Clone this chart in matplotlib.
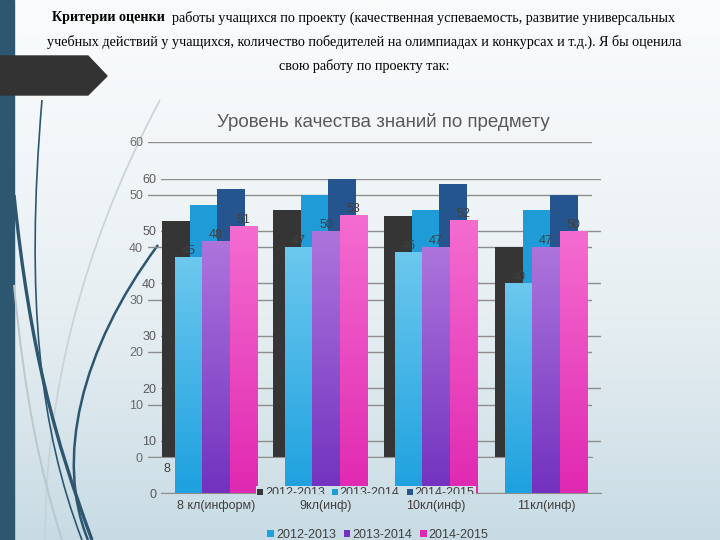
import matplotlib

matplotlib.use("Agg")

import matplotlib.pyplot as plt
import numpy as np
from matplotlib.colors import LinearSegmentedColormap
from matplotlib.patches import Polygon, PathPatch, Rectangle
from matplotlib.path import Path
from matplotlib.transforms import Bbox, TransformedBbox

plt.rcParams["font.family"] = ["Liberation Sans", "DejaVu Sans"]

# data
categories = ["8 кл(информ)", "9кл(инф)", "10кл(инф)", "11кл(инф)"]
years = ["2012-2013", "2013-2014", "2014-2015"]
vals_2012 = [45, 47, 46, 40]
vals_2013 = [48, 50, 47, 47]
vals_2014 = [51, 53, 52, 50]
y_ticks = [0, 10, 20, 30, 40, 50, 60]

title = "Уровень качества знаний по предмету"
header_bold = "Критерии оценки"
header_rest = "  работы учащихся по проекту (качественная успеваемость, развитие универсальных"
header_line2 = "учебных действий у учащихся, количество победителей на олимпиадах и конкурсах и т.д.). Я бы оценила"
header_line3 = "свою работу по проекту так:"

back_colors = ["#353535", "#1f9bd8", "#24558e"]
front_top = ["#6cc8ee", "#ad74dc", "#f46cd0"]
front_bot = ["#1ea1df", "#7232bf", "#e029b1"]
grid_color = "#8e8e8e"
label_color = "#595959"

W, H = 720, 540
fig = plt.figure(figsize=(W / 100, H / 100), dpi=100)

# slide background
bg = fig.add_axes([0, 0, 1, 1], zorder=0)
bg.set_xlim(0, W)
bg.set_ylim(H, 0)
bg.axis("off")
grad = np.linspace(0, 1, 256).reshape(-1, 1) ** 1.3
bg_cmap = LinearSegmentedColormap.from_list("bg", ["#f9fbfc", "#e6eef2", "#c8dbe4"])
bg.imshow(grad, extent=[0, W, H, 0], aspect="auto", cmap=bg_cmap, zorder=0)
bg.add_patch(Rectangle((0, 0), 14, H, color="#2d5670", zorder=1))
bg.add_patch(Polygon([(0, 56), (88, 56), (107, 76), (88, 95), (0, 95)], color="#333333", zorder=3))


def curve(points, color, lw, alpha=1.0):
    codes = [Path.MOVETO, Path.CURVE4, Path.CURVE4, Path.CURVE4]
    bg.add_patch(PathPatch(Path(points, codes), fill=False, edgecolor=color, lw=lw, alpha=alpha, zorder=2))


curve([(160, 100), (80, 250), (45, 400), (45, 540)], "#c9d2d6", 1.2)
curve([(14, 285), (25, 400), (40, 470), (62, 540)], "#b9c7ce", 1.4)
curve([(42, 100), (25, 300), (40, 430), (82, 540)], "#2d5670", 1.2)
curve([(14, 195), (30, 350), (55, 440), (92, 540)], "#2d5670", 2.4)
curve([(158, 245), (80, 350), (55, 460), (88, 540)], "#2d5670", 1.8)

# header text
r = fig.canvas.get_renderer()
hy = [18, 42, 66]
cx = 364
hsize = 10.2
t1 = fig.text(0, 1 - hy[0] / H, header_bold, family="Liberation Serif", weight="bold",
              fontsize=hsize, va="center")
t2 = fig.text(0, 1 - hy[0] / H, header_rest, family="Liberation Serif", fontsize=hsize, va="center")
w1 = t1.get_window_extent(r).width
w2 = t2.get_window_extent(r).width
start = cx - (w1 + w2) / 2
t1.set_x(start / W)
t2.set_x((start + w1) / W)
fig.text(cx / W, 1 - hy[1] / H, header_line2, family="Liberation Serif", fontsize=hsize,
         ha="center", va="center")
fig.text(cx / W, 1 - hy[2] / H, header_line3, family="Liberation Serif", fontsize=hsize,
         ha="center", va="center")

fig.text(383 / W, 1 - 122 / H, title, ha="center", va="center", fontsize=13.5, color=label_color)


def px_axes(left, top, right, bottom, z):
    return fig.add_axes([left / W, 1 - bottom / H, (right - left) / W, (bottom - top) / H], zorder=z)


ax_a = px_axes(148, 142, 592, 457, 2)
ax_bg = px_axes(161, 178.5, 601, 493, 1)
ax_b = px_axes(161, 178.5, 601, 493, 3)

x = np.arange(len(categories))
w = 0.25
offsets = [-w, 0, w]
series = [vals_2012, vals_2013, vals_2014]

for ax in (ax_a, ax_bg, ax_b):
    ax.set_facecolor("none")
    for s in ax.spines.values():
        s.set_visible(False)
    ax.tick_params(length=0, labelsize=9, labelcolor=label_color)

# back chart
ax_a.set_axisbelow(True)
ax_a.grid(axis="y", color=grid_color, lw=1)
ax_a.spines["bottom"].set_visible(True)
ax_a.spines["bottom"].set_color(grid_color)
ax_a.set_yticks(y_ticks)
ax_a.tick_params(axis="y", pad=3.6, labelcolor="#6a6a6a")
ax_a.set_xticks(x, categories)
ax_a.tick_params(axis="x", pad=4.5, labelcolor="#404040")
back_bars = []
for off, vals, c, lab in zip(offsets, series, back_colors, years):
    back_bars.append(ax_a.bar(x + off, vals, w, color=c, label=lab, zorder=2))
ax_a.set_xlim(-0.5, 3.5)
ax_a.set_ylim(0, 60)

# front chart grid and y labels
ax_bg.grid(axis="y", color=grid_color, lw=1)
ax_bg.spines["bottom"].set_visible(True)
ax_bg.spines["bottom"].set_color(grid_color)
ax_bg.set_yticks(y_ticks)
ax_bg.tick_params(axis="y", pad=3.6)
ax_bg.set_xticks([])
ax_bg.set_xlim(-0.5, 3.5)
ax_bg.set_ylim(0, 60)

# front chart bars
ax_b.set_yticks([])
ax_b.set_xticks(x, categories)
ax_b.tick_params(axis="x", pad=5, labelcolor="#404040")
ramp = np.linspace(0, 1, 100).reshape(-1, 1)
for off, vals, top, bot, lab in zip(offsets, series, front_top, front_bot, years):
    bars = ax_b.bar(x + off, vals, w, color=bot, label=lab, zorder=2)
    cmap = LinearSegmentedColormap.from_list(lab, [top, bot])
    for rect in bars:
        x0 = rect.get_x()
        im = ax_b.imshow(ramp, extent=[x0, x0 + rect.get_width(), 0, rect.get_height()],
                         aspect="auto", cmap=cmap, zorder=2.1)
        im.set_clip_path(rect)
    for xi, v in zip(x + off, vals):
        ax_b.text(xi, v, str(v), ha="center", va="bottom", fontsize=9, color="#404040", zorder=4)
ax_b.set_xlim(-0.5, 3.5)
ax_b.set_ylim(0, 60)
ax_b.legend(loc="center", bbox_to_anchor=(0.493, -0.134), ncol=3, frameon=False, fontsize=9,
            handlelength=0.55, handleheight=0.55, handletextpad=0.15, columnspacing=0.6,
            labelcolor="#404040", borderaxespad=0)

# legend of the back chart sits over the front bars, its lower half cut off
band = bg_cmap((490 / H) ** 1.3)
leg_a = fig.legend(handles=back_bars, labels=years, loc="center",
                   bbox_to_anchor=(366 / W, 1 - 493.5 / H), ncol=3, frameon=True, fancybox=False,
                   facecolor=band, edgecolor="none", framealpha=1, fontsize=9,
                   handlelength=0.45, handleheight=0.45, handletextpad=0.15, columnspacing=0.6,
                   labelcolor="#404040", borderpad=0.15, borderaxespad=0)
clip = TransformedBbox(Bbox([[0, 1 - 494 / H], [1, 1]]), fig.transFigure)
leg_a.get_frame().set_clip_box(clip)
leg_a.get_frame().set_clip_on(True)
for t in leg_a.get_texts():
    t.set_clip_box(clip)
    t.set_clip_on(True)

fig.savefig("out.png", dpi=100)
